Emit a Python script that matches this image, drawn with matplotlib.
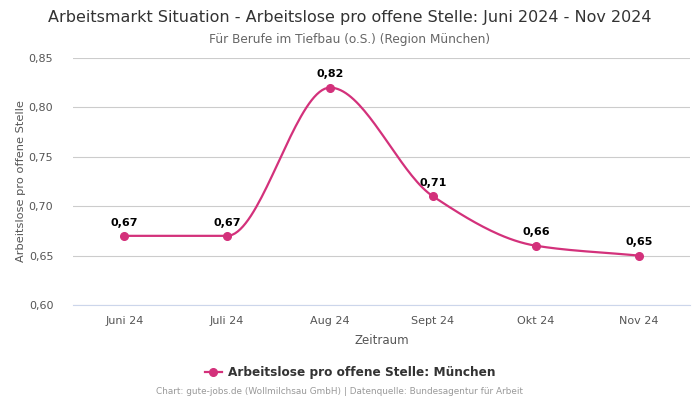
import numpy as np
import matplotlib
matplotlib.use("Agg")
import matplotlib.pyplot as plt
from matplotlib.lines import Line2D

# Daten
monate = ["Juni 24", "Juli 24", "Aug 24", "Sept 24", "Okt 24", "Nov 24"]
werte = [0.67, 0.67, 0.82, 0.71, 0.66, 0.65]
farbe = "#d3317b"


def monotone_kurve(x, y, n=40):
    # monotone kubische Interpolation (wie curveMonotoneX) nur fuer die Linie
    x = np.asarray(x, float)
    y = np.asarray(y, float)
    h = np.diff(x)
    d = np.diff(y) / h
    m = np.zeros_like(y)
    m[0] = d[0]
    m[-1] = d[-1]
    for i in range(1, len(y) - 1):
        if d[i - 1] * d[i] <= 0:
            m[i] = 0
        else:
            m[i] = 3 * (h[i - 1] + h[i]) / ((2 * h[i] + h[i - 1]) / d[i - 1] + (h[i] + 2 * h[i - 1]) / d[i])
    xs, ys = [], []
    for i in range(len(x) - 1):
        t = np.linspace(0, 1, n)
        h00 = 2 * t**3 - 3 * t**2 + 1
        h10 = t**3 - 2 * t**2 + t
        h01 = -2 * t**3 + 3 * t**2
        h11 = t**3 - t**2
        xs.append(x[i] + t * h[i])
        ys.append(h00 * y[i] + h10 * h[i] * m[i] + h01 * y[i + 1] + h11 * h[i] * m[i + 1])
    return np.concatenate(xs), np.concatenate(ys)


fig = plt.figure(figsize=(7, 4), dpi=100)
ax = fig.add_axes([0.104, 0.2375, 0.882, 0.6175])

pos = np.arange(len(monate))
kx, ky = monotone_kurve(pos, werte)
ax.plot(kx, ky, color=farbe, lw=1.6, zorder=3)
ax.plot(pos, werte, "o", color=farbe, ms=5.5, zorder=4)

for xi, yi in zip(pos, werte):
    ax.annotate(f"{yi:.2f}".replace(".", ","), (xi, yi), xytext=(0, 6),
                textcoords="offset points", ha="center", va="bottom",
                fontsize=8, fontweight="bold", color="black")

ax.set_xlim(-0.5, len(monate) - 0.5)
ax.set_ylim(0.60, 0.85)
ax.set_yticks([0.60, 0.65, 0.70, 0.75, 0.80, 0.85])
ax.set_yticklabels([f"{v:.2f}".replace(".", ",") for v in ax.get_yticks()])
ax.set_xticks(pos)
ax.set_xticklabels(monate)
ax.tick_params(axis="both", length=0, labelsize=8, colors="#555555", pad=8)
ax.tick_params(axis="y", pad=14)
ax.grid(axis="y", color="#cccccc", lw=0.8)
ax.set_axisbelow(True)
for s in ["top", "right", "left"]:
    ax.spines[s].set_visible(False)
ax.spines["bottom"].set_color("#ccd6eb")
ax.spines["bottom"].set_linewidth(0.8)

ax.set_xlabel("Zeitraum", fontsize=8.5, color="#555555", labelpad=6)
ax.set_ylabel("Arbeitslose pro offene Stelle", fontsize=8.2, color="#555555", labelpad=2)

fig.text(0.5, 0.957, "Arbeitsmarkt Situation - Arbeitslose pro offene Stelle: Juni 2024 - Nov 2024",
         ha="center", va="center", fontsize=11.5, color="#333333")
fig.text(0.5, 0.902, "Für Berufe im Tiefbau (o.S.) (Region München)",
         ha="center", va="center", fontsize=8.7, color="#666666")

handle = Line2D([], [], color=farbe, marker="o", ms=5.5, lw=1.6)
fig.legend([handle], ["Arbeitslose pro offene Stelle: München"], loc="center",
           bbox_to_anchor=(0.5, 0.068), frameon=False, handlelength=1.4, handletextpad=0.5,
           prop={"size": 8.7, "weight": "bold"}, labelcolor="#333333")

fig.text(0.485, 0.02, "Chart: gute-jobs.de (Wollmilchsau GmbH) | Datenquelle: Bundesagentur für Arbeit",
         ha="center", va="center", fontsize=6.4, color="#999999")

fig.savefig("out.png", dpi=100)
